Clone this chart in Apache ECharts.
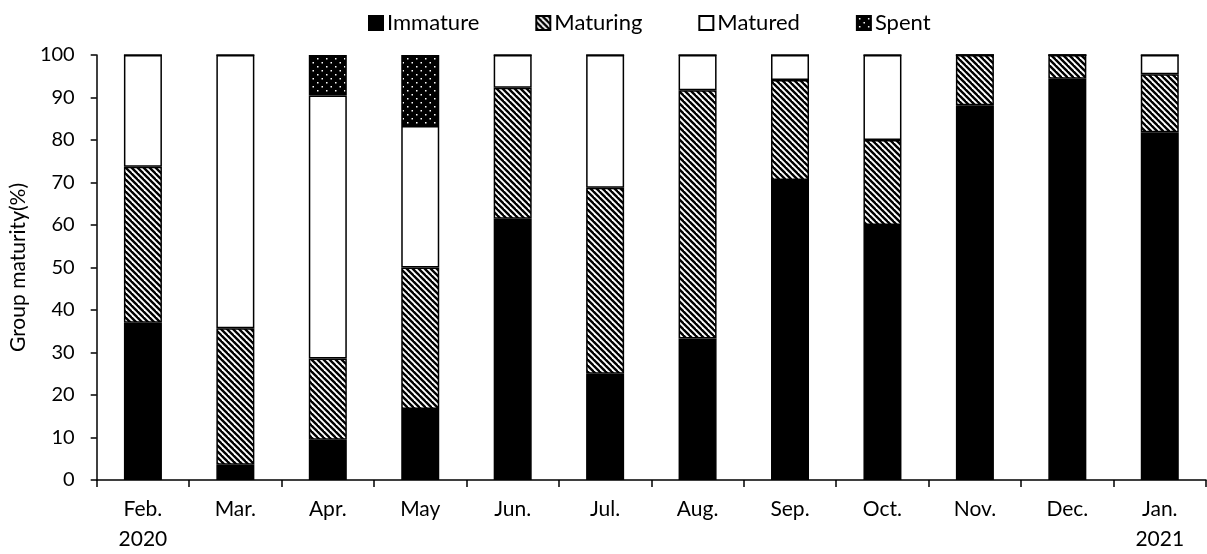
<!DOCTYPE html>
<html>
<head>
<meta charset="utf-8">
<script src="https://cdn.jsdelivr.net/npm/echarts@6/dist/echarts.min.js"></script>
<style>
  html, body { margin: 0; padding: 0; background: #fff; }
  #chart { width: 1207px; height: 554px; }
</style>
</head>
<body>
<div id="chart"></div>
<script>
const months = ['Feb.\n2020', 'Mar.', 'Apr.', 'May', 'Jun.', 'Jul.', 'Aug.', 'Sep.', 'Oct.', 'Nov.', 'Dec.', 'Jan.\n2021'];
const immature = [37.0, 3.6, 9.5, 16.7, 61.5, 25.0, 33.3, 70.6, 60.0, 88.2, 94.4, 81.8];
const maturing = [36.7, 32.1, 19.1, 33.3, 30.8, 43.75, 58.4, 23.5, 20.0, 11.8, 5.6, 13.7];
const matured = [26.3, 64.3, 61.9, 33.3, 7.7, 31.25, 8.3, 5.9, 20.0, 0, 0, 4.5];
const spent = [0, 0, 9.5, 16.7, 0, 0, 0, 0, 0, 0, 0, 0];

const font = 'Lato, "Open Sans", sans-serif';

// diagonal hatch for "Maturing"
function stripePattern() {
  const c = document.createElement('canvas');
  c.width = 6; c.height = 6;
  const ctx = c.getContext('2d');
  ctx.fillStyle = '#fff';
  ctx.fillRect(0, 0, 6, 6);
  ctx.strokeStyle = '#000';
  ctx.lineWidth = 2.4;
  for (let o = -6; o <= 6; o += 6) {
    ctx.beginPath();
    ctx.moveTo(o - 1, -1);
    ctx.lineTo(o + 7, 7);
    ctx.stroke();
  }
  return c;
}

// white dots on black for "Spent"
function dotPattern() {
  const c = document.createElement('canvas');
  c.width = 9; c.height = 8;
  const ctx = c.getContext('2d');
  ctx.fillStyle = '#000';
  ctx.fillRect(0, 0, 9, 8);
  ctx.fillStyle = '#fff';
  ctx.fillRect(2, 2, 1.5, 1.5);
  ctx.fillRect(6.5, 6, 1.5, 1.5);
  return c;
}

const chart = echarts.init(document.getElementById('chart'));

function makeSeries(name, values, fill) {
  return {
    name: name,
    type: 'bar',
    stack: 'total',
    barWidth: 38,
    data: values,
    itemStyle: { color: fill, borderColor: '#000', borderWidth: 1.5 },
    emphasis: { disabled: true }
  };
}

const option = {
  animation: false,
  backgroundColor: '#fff',
  textStyle: { fontFamily: font, color: '#000' },
  legend: {
    top: 7,
    left: 363,
    icon: 'rect',
    itemWidth: 14,
    itemHeight: 14,
    itemGap: 56,
    textStyle: { fontFamily: font, fontSize: 22, color: '#000', padding: [0, 0, 0, -1] },
    data: ['Immature', 'Maturing', 'Matured', 'Spent']
  },
  grid: { left: 96, right: 1, top: 55, bottom: 69, containLabel: false },
  xAxis: {
    type: 'category',
    data: months,
    axisLine: { lineStyle: { color: '#000', width: 1.5 } },
    axisTick: { show: true, length: 7, lineStyle: { color: '#000', width: 1.5 } },
    axisLabel: { fontFamily: font, fontSize: 21, color: '#000', margin: 14, lineHeight: 30, interval: 0 }
  },
  yAxis: {
    type: 'value',
    min: 0,
    max: 100,
    interval: 10,
    name: 'Group maturity(%)',
    nameLocation: 'middle',
    nameGap: 62,
    nameTextStyle: { fontFamily: font, fontSize: 21, color: '#000' },
    splitLine: { show: false },
    axisLine: { show: true, lineStyle: { color: '#000', width: 1.5 } },
    axisTick: { show: true, length: 6, lineStyle: { color: '#000', width: 1.5 } },
    axisLabel: { fontFamily: font, fontSize: 20, color: '#000', margin: 22 }
  },
  series: [
    makeSeries('Immature', immature, '#000'),
    makeSeries('Maturing', maturing, { image: stripePattern(), repeat: 'repeat' }),
    makeSeries('Matured', matured, '#fff'),
    makeSeries('Spent', spent, { image: dotPattern(), repeat: 'repeat' })
  ]
};

chart.setOption(option);
</script>
</body>
</html>
